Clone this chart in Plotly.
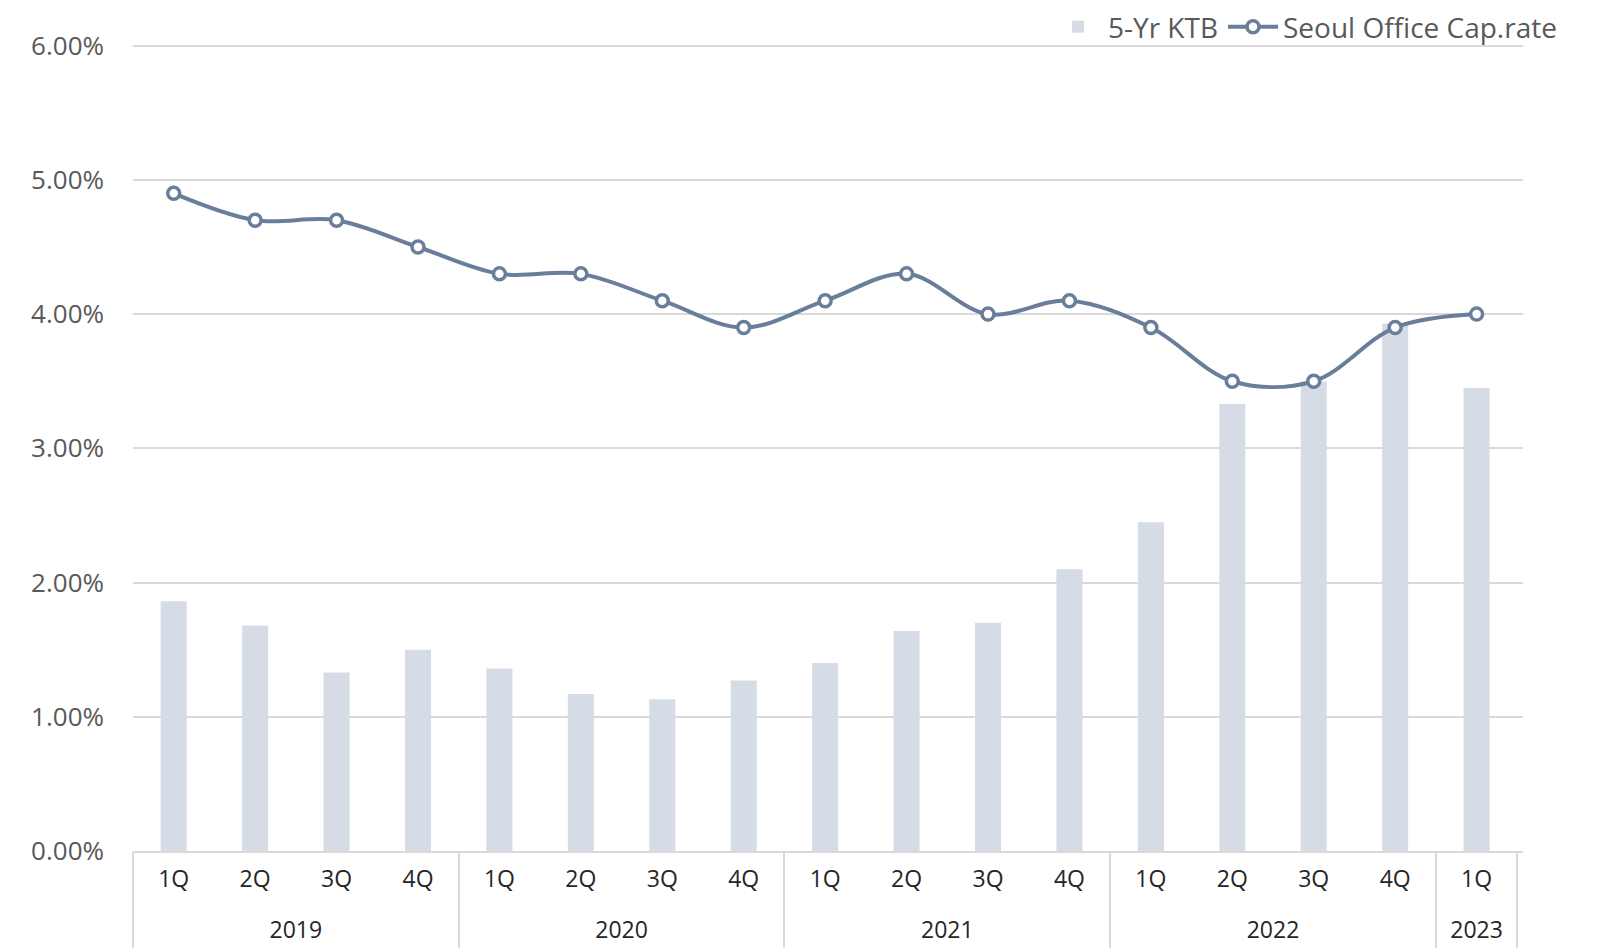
import plotly.graph_objects as go

years = ["2019"] * 4 + ["2020"] * 4 + ["2021"] * 4 + ["2022"] * 4 + ["2023"]
quarters = ["1Q", "2Q", "3Q", "4Q"] * 4 + ["1Q"]
ktb_5yr = [1.86, 1.68, 1.33, 1.50, 1.36, 1.17, 1.13, 1.27, 1.40, 1.64, 1.70, 2.10,
           2.45, 3.33, 3.50, 3.93, 3.45]
cap_rate = [4.9, 4.7, 4.7, 4.5, 4.3, 4.3, 4.1, 3.9, 4.1, 4.3, 4.0, 4.1,
            3.9, 3.5, 3.5, 3.9, 4.0]
y_ticks = [0, 1, 2, 3, 4, 5, 6]
y_tick_labels = ["0.00%", "1.00%", "2.00%", "3.00%", "4.00%", "5.00%", "6.00%"]

FONT = "Open Sans"
LINE_COLOR = "#687E9A"
BAR_COLOR = "#D6DCE5"
GRID = "#D9D9D9"

# unique category keys (year + quarter), labelled by quarter only
cats = [f"{y} {q}" for y, q in zip(years, quarters)]

# year groups: centres and boundaries in category-index units
groups = []
for i, y in enumerate(years):
    if not groups or groups[-1][0] != y:
        groups.append([y, i, i])
    else:
        groups[-1][2] = i
year_labels = [g[0] for g in groups]
year_centres = [(g[1] + g[2]) / 2 for g in groups]
year_bounds = [g[1] - 0.5 for g in groups] + [groups[-1][2] + 0.5]

X_RANGE = [-0.5, 16.57]

fig = go.Figure()
fig.add_trace(go.Bar(
    x=cats, y=ktb_5yr, name="5-Yr KTB",
    marker=dict(color=BAR_COLOR, line=dict(width=0)),
    width=0.32,
))
fig.add_trace(go.Scatter(
    x=cats, y=cap_rate, name="Seoul Office Cap.rate",
    mode="lines+markers",
    line=dict(color=LINE_COLOR, width=4, shape="spline", smoothing=1),
    marker=dict(symbol="circle", size=12, color="white",
                line=dict(color=LINE_COLOR, width=3.5)),
))
# helper trace so the year axis is drawn
fig.add_trace(go.Scatter(
    x=year_centres, y=[None] * len(year_centres), xaxis="x2", yaxis="y",
    mode="markers", showlegend=False, hoverinfo="skip",
))

fig.update_layout(
    width=1593, height=940,
    margin=dict(l=125, r=78, t=35, b=97, autoexpand=False),
    paper_bgcolor="white", plot_bgcolor="white",
    showlegend=True,
    legend=dict(
        orientation="h", xref="container", yref="paper",
        x=0.9755, xanchor="right", y=1.0198, yanchor="middle",
        font=dict(family=FONT, size=28, color="#595959"),
        traceorder="normal", itemwidth=50,
        bgcolor="rgba(0,0,0,0)",
    ),
    xaxis=dict(
        type="category", range=X_RANGE,
        tickvals=cats, ticktext=quarters,
        showline=True, linecolor=GRID, linewidth=1.5,
        showgrid=False, ticks="", ticklabelstandoff=7,
        tickfont=dict(family=FONT, size=23, color="#262626"),
    ),
    xaxis2=dict(
        type="linear", overlaying="x", anchor="y", side="bottom",
        range=X_RANGE, showgrid=False, zeroline=False, showline=False,
        tickmode="array", tickvals=year_centres, ticktext=year_labels,
        ticks="", ticklabelstandoff=63,
        tickfont=dict(family=FONT, size=23, color="#262626"),
        minor=dict(tickmode="array", tickvals=year_bounds, ticks="outside",
                   ticklen=97, tickwidth=1.5, tickcolor=GRID, showgrid=False),
    ),
    yaxis=dict(
        range=[0, 6.02], tickvals=y_ticks, ticktext=y_tick_labels,
        showgrid=True, gridcolor=GRID, gridwidth=1.5,
        zeroline=False, showline=False, ticks="",
        tickfont=dict(family=FONT, size=26, color="#595959"),
        ticklabelstandoff=28,
    ),
    bargap=0.68,
)

fig.write_html("out.html")
